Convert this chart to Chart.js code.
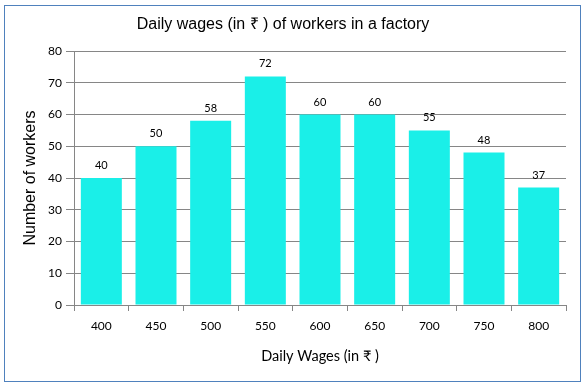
<!DOCTYPE html>
<html>
<head>
<meta charset="utf-8">
<script src="https://cdn.jsdelivr.net/npm/chart.js@4"></script>
<style>
  html, body { margin: 0; padding: 0; background: #fff; }
  #wrap { position: relative; width: 586px; height: 389px; }
  #frame {
    position: absolute; left: 4px; top: 5px; width: 575px; height: 375px;
    border: 1px solid #4f81bd; pointer-events: none;
  }
</style>
</head>
<body>
<div id="wrap">
  <canvas id="chart" width="586" height="389"></canvas>
  <div id="frame"></div>
</div>
<script>
'use strict';

// ── data ──
const wages = ['400', '450', '500', '550', '600', '650', '700', '750', '800'];
const workers = [40, 50, 58, 72, 60, 60, 55, 48, 37];
const yTicks = [0, 10, 20, 30, 40, 50, 60, 70, 80];

const gridGrey = '#868686';

// value labels above each bar
const barLabels = {
  id: 'barLabels',
  afterDatasetsDraw(chart) {
    const ctx = chart.ctx;
    const meta = chart.getDatasetMeta(0);
    ctx.save();
    ctx.font = "11px Lato, 'DejaVu Sans', sans-serif";
    ctx.fillStyle = '#000';
    ctx.textAlign = 'center';
    ctx.textBaseline = 'bottom';
    meta.data.forEach((bar, i) => {
      ctx.fillText(String(workers[i]), bar.x, bar.y - 7);
    });
    ctx.restore();
  }
};

new Chart(document.getElementById('chart'), {
  type: 'bar',
  data: {
    labels: wages,
    datasets: [{
      data: workers,
      backgroundColor: '#1aefe8',
      borderWidth: 0,
      categoryPercentage: 1,
      barPercentage: 0.75
    }]
  },
  options: {
    responsive: false,
    animation: false,
    layout: { padding: { left: 0, right: 20, top: 0, bottom: 0 } },
    plugins: {
      legend: { display: false },
      tooltip: { enabled: false },
      title: {
        display: true,
        text: 'Daily wages (in ₹ ) of workers in a factory',
        color: '#000',
        font: { family: "'Liberation Sans', Arial, sans-serif", size: 16, weight: 'normal', lineHeight: 1.2 },
        padding: { top: 15.4, bottom: 16.4 }
      }
    },
    scales: {
      x: {
        afterFit: (s) => { s.height = 84; },
        grid: { display: true, drawOnChartArea: false, drawTicks: true, tickLength: 6, color: gridGrey, offset: true },
        border: { display: true, color: gridGrey },
        ticks: { color: '#000', padding: 8, font: { family: "Lato, 'DejaVu Sans', sans-serif", size: 12 } },
        title: {
          display: true,
          text: 'Daily Wages (in ₹ )',
          color: '#000',
          font: { family: "Lato, 'DejaVu Sans', sans-serif", size: 14.5 },
          padding: { top: 0, bottom: 24 }
        }
      },
      y: {
        min: 0,
        max: 80,
        afterFit: (s) => { s.width = 74; },
        afterBuildTicks: (s) => { s.ticks = yTicks.map(v => ({ value: v })); },
        grid: { color: gridGrey, tickLength: 8, drawTicks: true },
        border: { display: true, color: gridGrey },
        ticks: { color: '#000', padding: 4, font: { family: "Lato, 'DejaVu Sans', sans-serif", size: 12 } },
        title: {
          display: true,
          text: 'Number of workers',
          color: '#000',
          font: { family: "'Liberation Sans', Arial, sans-serif", size: 16 },
          padding: { top: 21, bottom: 0 }
        }
      }
    }
  },
  plugins: [barLabels]
});
</script>
</body>
</html>
